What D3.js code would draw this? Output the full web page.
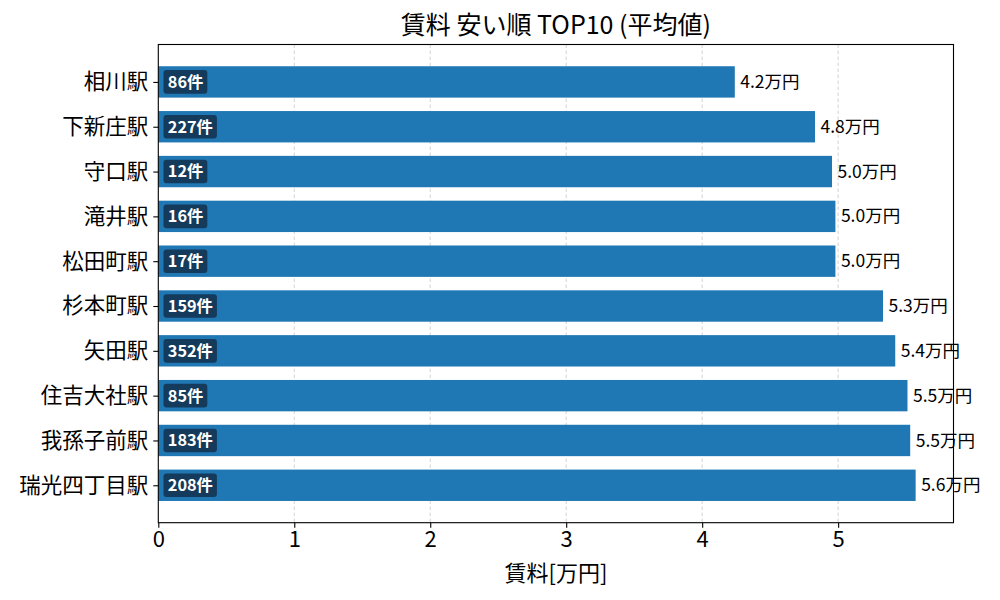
<!DOCTYPE html>
<html><head><meta charset="utf-8">
<script src="https://cdn.jsdelivr.net/npm/d3@7"></script>
<style>
html,body{margin:0;padding:0;background:#fff;}
svg{display:block;font-family:"Noto Sans CJK JP","Noto Sans",sans-serif;}
</style></head>
<body><svg id="chart" width="1000" height="600"></svg>
<script>
const stations = ["相川駅","下新庄駅","守口駅","滝井駅","松田町駅","杉本町駅","矢田駅","住吉大社駅","我孫子前駅","瑞光四丁目駅"];
const rents = [4.24, 4.83, 4.955, 4.98, 4.98, 5.33, 5.42, 5.51, 5.53, 5.57];
const counts = [86, 227, 12, 16, 17, 159, 352, 85, 183, 208];
const xTicks = [0, 1, 2, 3, 4, 5];
const titleText = "賃料 安い順 TOP10 (平均値)";
const xLabel = "賃料[万円]";

const svg = d3.select("#chart");
const L = 158.3, R = 953.5, T = 44.5, B = 522.7;
const xmax = d3.max(rents) * 1.05;
const x = d3.scaleLinear().domain([0, xmax]).range([L, R]);
const y = d3.scaleLinear().domain([-0.835, stations.length - 1 + 0.835]).range([T, B]);
const bh = y(0.7) - y(0);

// grid
svg.append("g").selectAll("line").data(xTicks.filter(d => d > 0)).join("line")
  .attr("x1", d => x(d)).attr("x2", d => x(d)).attr("y1", T).attr("y2", B)
  .attr("stroke", "#c8c8c8").attr("stroke-width", 0.8).attr("stroke-dasharray", "3.5,2.5");

const data = stations.map((s, i) => ({s, v: rents[i], c: counts[i], i}));

// bars
svg.append("g").selectAll("rect").data(data).join("rect")
  .attr("x", x(0)).attr("y", d => y(d.i) - bh / 2)
  .attr("width", d => x(d.v) - x(0)).attr("height", bh)
  .attr("fill", "#1f77b4");

// value labels
svg.append("g").selectAll("text").data(data).join("text")
  .attr("x", d => x(d.v) + 5.5).attr("y", d => y(d.i))
  .attr("dy", "0.35em").attr("font-size", "17.5px").attr("fill", "#000")
  .text(d => d.v.toFixed(1) + "万円");

// count badges
const badges = svg.append("g").selectAll("g").data(data).join("g");
badges.append("text")
  .attr("class", "bt")
  .attr("x", x(0) + 9.5).attr("y", d => y(d.i))
  .attr("dy", "0.36em").attr("font-size", "16.3px").attr("font-weight", "bold").attr("fill", "#fff")
  .text(d => d.c + "件");
badges.each(function() {
  const g = d3.select(this);
  const t = g.select("text");
  const bb = t.node().getBBox();
  const cy = +t.attr("y");
  g.insert("rect", "text")
    .attr("x", bb.x - 4.3).attr("y", cy - 11.8)
    .attr("width", bb.width + 8.3).attr("height", 23.6)
    .attr("rx", 3).attr("fill", "#143b5b");
});

// axes
const xAxis = d3.axisBottom(x).tickValues(xTicks).tickSize(5).tickPadding(4).tickFormat(d3.format("d"));
const gx = svg.append("g").attr("transform", `translate(0,${B})`).call(xAxis);
gx.select(".domain").remove();
gx.selectAll("line").attr("stroke", "#000").attr("stroke-width", 1.1);
gx.selectAll("text").attr("font-size", "22px").attr("fill", "#000").attr("font-family", "\"Noto Sans CJK JP\"");

const yAxis = d3.axisLeft(y).tickValues(d3.range(stations.length)).tickFormat(i => stations[i]).tickSize(5).tickPadding(5);
const gy = svg.append("g").attr("transform", `translate(${L},0)`).call(yAxis);
gy.select(".domain").remove();
gy.selectAll("line").attr("stroke", "#000").attr("stroke-width", 1.1);
gy.selectAll("text").attr("font-size", "21.5px").attr("fill", "#000").attr("font-family", "\"Noto Sans CJK JP\"");

// frame
svg.append("rect").attr("x", L).attr("y", T).attr("width", R - L).attr("height", B - T)
  .attr("fill", "none").attr("stroke", "#000").attr("stroke-width", 1.1);

// title & label
svg.append("text").attr("x", (L + R) / 2).attr("y", 34).attr("text-anchor", "middle")
  .attr("font-size", "25px").attr("fill", "#000").text(titleText);
svg.append("text").attr("x", (L + R) / 2).attr("y", 581).attr("text-anchor", "middle")
  .attr("font-size", "22px").attr("fill", "#000").text(xLabel);
</script></body></html>
